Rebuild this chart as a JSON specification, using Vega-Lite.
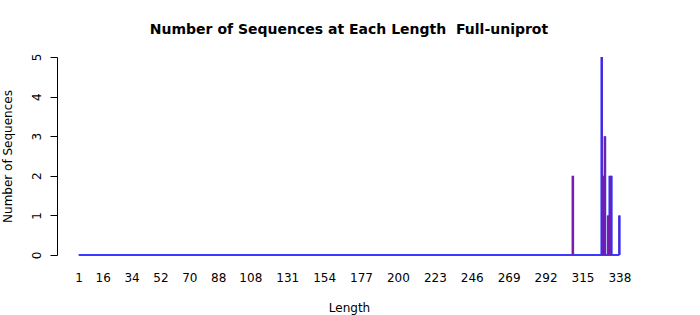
{
  "$schema": "https://vega.github.io/schema/vega-lite/v6.json",
  "autosize": "none",
  "width": 584,
  "height": 198,
  "padding": {"left": 57, "top": 57, "right": 59, "bottom": 60},
  "background": "white",
  "config": {
    "view": {"stroke": null},
    "font": "DejaVu Sans",
    "axis": {"labelFont": "DejaVu Sans", "titleFont": "DejaVu Sans", "labelColor": "black", "titleColor": "black", "labelFontSize": 12, "titleFontSize": 12, "titleFontWeight": "normal", "grid": false, "labelOverlap": false, "labelFlush": false}
  },
  "title": {
    "text": "Number of Sequences at Each Length\u00a0\u00a0Full-uniprot",
    "font": "DejaVu Sans",
    "fontSize": 14,
    "fontWeight": "bold",
    "color": "black",
    "anchor": "middle",
    "offset": 16
  },
  "datasets": {
    "bars": [
      {"len": 309, "n": 2},
      {"len": 327, "n": 5},
      {"len": 328, "n": 2},
      {"len": 329, "n": 3},
      {"len": 331, "n": 1},
      {"len": 332, "n": 2},
      {"len": 333, "n": 2},
      {"len": 338, "n": 1}
    ],
    "base": [{"len": 1, "end": 338, "n": 0}]
  },
  "encoding": {
    "x": {"field": "len", "type": "quantitative", "scale": {"domain": [-12.48, 351.48], "nice": false, "zero": false},
      "axis": {"values": [1,16,34,52,70,88,108,131,154,177,200,223,246,269,292,315,338], "domain": false, "ticks": false, "labelPadding": 17, "title": "Length", "titlePadding": 19, "labelFlush": false, "labelOverlap": false}},
    "y": {"field": "n", "type": "quantitative", "scale": {"domain": [0, 5], "nice": false},
      "axis": {"values": [0,1,2,3,4,5], "tickSize": 7, "tickColor": "black", "domainColor": "black", "labelAngle": 270, "labelPadding": 7, "labelAlign": "center", "labelBaseline": "bottom", "labelOverlap": false, "title": "Number of Sequences", "titlePadding": 16}}
  },
  "layer": [
    {
      "data": {"name": "base"},
      "mark": {"type": "rule", "color": "#3b3bff", "strokeWidth": 2},
      "encoding": {
        "x2": {"field": "end"}
      }
    },
    {
      "data": {"name": "bars"},
      "mark": {"type": "rule", "color": "#3b3bff", "strokeWidth": 2.6},
      "encoding": {
        "y2": {"datum": 0}
      }
    },
    {
      "data": {"name": "bars"},
      "mark": {"type": "rule", "color": "#b0005a", "strokeWidth": 1.2, "opacity": 0.7},
      "encoding": {
        "y2": {"datum": 0}
      }
    }
  ]
}
